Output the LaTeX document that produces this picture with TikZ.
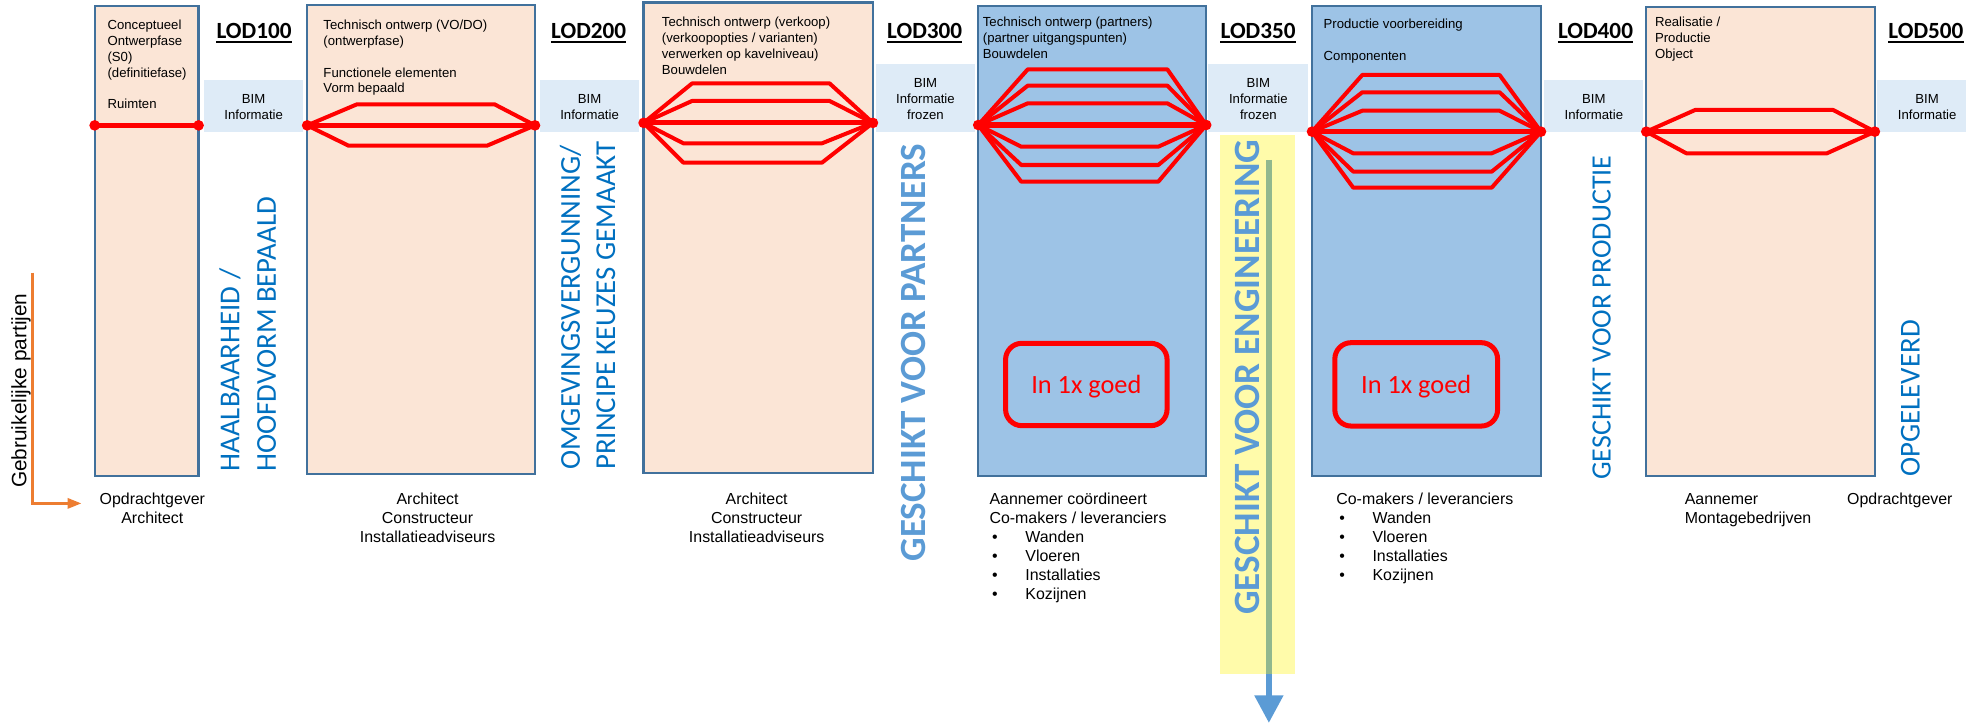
\documentclass[tikz,border=0pt]{standalone}
\usepackage{fontspec}
\setmainfont{Liberation Sans}
\newfontfamily\calib{Carlito}
\usetikzlibrary{arrows.meta,calc}
\definecolor{peach}{HTML}{FBE5D6}
\definecolor{pblue}{HTML}{9DC3E6}
\definecolor{edge}{HTML}{41719C}
\definecolor{bimfill}{HTML}{DEEBF7}
\definecolor{darkblue}{HTML}{0070C0}
\definecolor{midblue}{HTML}{5B9BD5}
\definecolor{orangeline}{HTML}{ED7D31}
\definecolor{redline}{HTML}{FF0000}
\begin{document}
\begin{tikzpicture}[x=1pt,y=-1pt,
  pbox/.style={draw=edge,line width=1.8pt,inner sep=0pt,outer sep=0pt},
  bimbox/.style={fill=bimfill,inner sep=0pt,outer sep=0pt},
  dot/.style={circle,fill=redline,inner sep=0pt,minimum size=8.5pt},
  hexl/.style={draw=redline,line width=3.2pt,line join=round,line cap=round},
  midl/.style={draw=redline,line width=4pt,line cap=round},
  toptext/.style={font=\fontsize{10.5}{12.65}\selectfont,align=left,inner sep=0pt,anchor=base west},
  bimtext/.style={font=\fontsize{10.5}{12.6}\selectfont,align=center,inner sep=0pt,anchor=base},
  lod/.style={font=\calib\bfseries\fontsize{18.5}{20}\selectfont,inner sep=0pt,anchor=base},
  ulin/.style={draw=black,line width=1.5pt},
  vtxt/.style={rotate=90,anchor=base west,inner sep=0pt,font=\calib\fontsize{23}{25}\selectfont,text=darkblue},
  vbold/.style={rotate=90,anchor=base west,inner sep=0pt,font=\calib\bfseries\fontsize{29.5}{31}\selectfont,text=midblue},
  gebr/.style={rotate=90,anchor=base west,inner sep=0pt,font=\fontsize{16.6}{18}\selectfont},
  botc/.style={font=\fontsize{12.7}{15.1}\selectfont,inner sep=0pt,anchor=base,align=center},
  botl/.style={font=\fontsize{12.7}{15.1}\selectfont,inner sep=0pt,anchor=base west,align=left},
  goedbox/.style={draw=redline,line width=4pt,rounded corners=13pt,inner sep=0pt},
  goedtxt/.style={font=\calib\fontsize{21}{23}\selectfont,text=redline,inner sep=0pt,anchor=base},
  orangearrow/.style={draw=orangeline,line width=2.2pt,-{Triangle[length=11pt,width=8pt]}},
  barrow/.style={draw=midblue,line width=4.8pt,-{Triangle[length=22pt,width=22pt]}}
]
\useasboundingbox (0,0) rectangle (1568,577);

% BIM boxes
\node[bimbox,minimum width=78.9pt,minimum height=41.2pt] (bim1) at (202.25,84.4) {};
\node[bimbox,minimum width=78.9pt,minimum height=41.2pt] (bim2) at (470.15,84.4) {};
\node[bimbox,minimum width=79.5pt,minimum height=54pt] (bim3) at (738.05,78) {};
\node[bimbox,minimum width=79.5pt,minimum height=54pt] (bim4) at (1003.25,78) {};
\node[bimbox,minimum width=78.8pt,minimum height=41.2pt] (bim5) at (1271.1,84.4) {};
\node[bimbox,minimum width=71pt,minimum height=41.2pt] (bim6) at (1532.5,84.4) {};

% process boxes
\node[pbox,fill=peach,minimum width=82.9pt,minimum height=374.6pt] (b1) at (116.95,192.1) {};
\node[pbox,fill=peach,minimum width=181.7pt,minimum height=374.6pt] (b2) at (335.85,191) {};
\node[pbox,fill=peach,minimum width=182.9pt,minimum height=375.4pt] (b3) at (604.75,189.8) {};
\node[pbox,fill=pblue,minimum width=181.8pt,minimum height=374.9pt] (b4) at (871.1,192.25) {};
\node[pbox,fill=pblue,minimum width=182.6pt,minimum height=374.9pt] (b5) at (1137.7,192.25) {};
\node[pbox,fill=peach,minimum width=182.3pt,minimum height=374.4pt] (b6) at (1404.15,192.5) {};

% dots
\node[dot] (l1) at (75.5,100) {};   \node[dot] (r1) at (158.4,100) {};
\node[dot] (l2) at (245,100) {};    \node[dot] (r2) at (426.7,100) {};
\node[dot] (l3) at (513.3,98) {};   \node[dot] (r3) at (696.2,98) {};
\node[dot] (l4) at (780.2,99.7) {}; \node[dot] (r4) at (962,99.7) {};
\node[dot] (l5) at (1046.4,105) {}; \node[dot] (r5) at (1229,105) {};
\node[dot] (l6) at (1313,105) {};   \node[dot] (r6) at (1495.3,105) {};

% red connectors
\draw[midl] (l1.center) -- (r1.center);
\draw[hexl] (l2.center) -- (284.7,83.2) -- (394.4,83.2) -- (r2.center);
\draw[hexl] (l2.center) -- (278,116.2) -- (388.4,116.2) -- (r2.center);
\draw[midl] (l2.center) -- (r2.center);
\foreach \yy in {66.5,80.5} \draw[hexl] (l3.center) -- (552,\yy) -- (661.6,\yy) -- (r3.center);
\foreach \yy in {114.3,129.7} \draw[hexl] (l3.center) -- (545,\yy) -- (655.6,\yy) -- (r3.center);
\draw[midl] (l3.center) -- (r3.center);
\foreach \yy in {55.3,68.3,82.4} \draw[hexl] (l4.center) -- (819.7,\yy) -- (931,\yy) -- (r4.center);
\foreach \yy in {117,131.6,144.9} \draw[hexl] (l4.center) -- (814.5,\yy) -- (923.8,\yy) -- (r4.center);
\draw[midl] (l4.center) -- (r4.center);
\foreach \yy in {59.8,73.6,88.3} \draw[hexl] (l5.center) -- (1086.5,\yy) -- (1196,\yy) -- (r5.center);
\foreach \yy in {122.3,136.9,149.7} \draw[hexl] (l5.center) -- (1079.3,\yy) -- (1189.7,\yy) -- (r5.center);
\draw[midl] (l5.center) -- (r5.center);
\draw[hexl] (l6.center) -- (1352,87.7) -- (1462,87.7) -- (r6.center);
\draw[hexl] (l6.center) -- (1345,122.3) -- (1457,122.3) -- (r6.center);
\draw[midl] (l6.center) -- (r6.center);

% texts in boxes (anchored at the baseline of the last line)
\node[toptext] (t1) at (85.6,86.75) {Conceptueel\\Ontwerpfase\\(S0)\\(definitiefase)\\[12.65pt]Ruimten};
\node[toptext] (t2) at (257.8,74.1) {Technisch ontwerp (VO/DO)\\(ontwerpfase)\\[12.65pt]Functionele elementen\\Vorm bepaald};
\node[toptext] (t3) at (527.7,59.45) {Technisch ontwerp (verkoop)\\(verkoopopties / varianten)\\verwerken op kavelniveau)\\Bouwdelen};
\node[toptext] (t4) at (783.7,46.8) {Technisch ontwerp (partners)\\(partner uitgangspunten)\\Bouwdelen};
\node[toptext] (t5) at (1055.5,47.9) {Productie voorbereiding\\[12.65pt]Componenten};
\node[toptext] (t6) at (1319.8,46.8) {Realisatie /\\Productie\\Object};

% BIM texts
\node[bimtext] (bt1) at (202.3,95.2) {BIM\\Informatie};
\node[bimtext] (bt2) at (470.2,95.2) {BIM\\Informatie};
\node[bimtext] (bt3) at (738.1,95.2) {BIM\\Informatie\\frozen};
\node[bimtext] (bt4) at (1003.6,95.2) {BIM\\Informatie\\frozen};
\node[bimtext] (bt5) at (1271.2,95.2) {BIM\\Informatie};
\node[bimtext] (bt6) at (1537,95.2) {BIM\\Informatie};

% LOD labels
\foreach \nm/\xx/\tx in {lodA/202.6/LOD100,lodB/469.5/LOD200,lodC/737.5/LOD300,lodD/1003.4/LOD350,lodE/1272.5/LOD400,lodF/1536/LOD500}{
  \node[lod] (\nm) at (\xx,30.7) {\tx};
  \draw[ulin] ($(\nm.base west)+(0,2.6)$) -- ($(\nm.base east)+(0,2.6)$);
}

% vertical texts
\node[vtxt] (haal) at (190.9,376.2) {HAALBAARHEID /};
\node[vtxt] (hoofd) at (220.1,376.2) {HOOFDVORM BEPAALD};
\node[vtxt] (omg) at (462.4,374.9) {OMGEVINGSVERGUNNING/};
\node[vtxt] (princ) at (490.5,374.9) {PRINCIPE KEUZES GEMAAKT};
\node[vbold] (partn) at (737.8,448) {GESCHIKT VOOR PARTNERS};
\node[vtxt,font=\calib\fontsize{22.3}{24}\selectfont] (prod) at (1284.6,382.8) {GESCHIKT VOOR PRODUCTIE};
\node[vtxt] (opg) at (1531,380.2) {OPGELEVERD};

% Gebruikelijke partijen
\node[gebr] (gebr) at (21,389.3) {Gebruikelijke partijen};
\coordinate (oa) at (26,217.5);
\coordinate (ob) at (26,401.5);
\coordinate (oc) at (65,401.5);
\draw[orangearrow] (oa) -- (ob) -- (oc);

% bottom texts (anchored at the baseline of the last line)
\node[botc] (p1) at (121.5,417.7) {Opdrachtgever\\Architect};
\node[botc] (p2) at (341,432.8) {Architect\\Constructeur\\Installatieadviseurs};
\node[botc] (p3) at (603.5,432.8) {Architect\\Constructeur\\Installatieadviseurs};
\node[botl] (p4) at (789,478.1) {Aannemer coördineert\\Co-makers / leveranciers\\
  \hspace*{2pt}\makebox[26.6pt][l]{\textbullet}Wanden\\
  \hspace*{2pt}\makebox[26.6pt][l]{\textbullet}Vloeren\\
  \hspace*{2pt}\makebox[26.6pt][l]{\textbullet}Installaties\\
  \hspace*{2pt}\makebox[26.6pt][l]{\textbullet}Kozijnen};
\node[botl] (p5) at (1065.6,463) {Co-makers / leveranciers\\
  \hspace*{2.4pt}\makebox[26.5pt][l]{\textbullet}Wanden\\
  \hspace*{2.4pt}\makebox[26.5pt][l]{\textbullet}Vloeren\\
  \hspace*{2.4pt}\makebox[26.5pt][l]{\textbullet}Installaties\\
  \hspace*{2.4pt}\makebox[26.5pt][l]{\textbullet}Kozijnen};
\node[botl] (p6) at (1343.5,417.7) {Aannemer\\Montagebedrijven};
\node[botl] (p7) at (1473,402.6) {Opdrachtgever};

% engineering strip
\coordinate (ea) at (1012,127.5);
\coordinate (eb) at (1012,576.6);
\draw[barrow] (ea) -- (eb);
\fill[yellow,fill opacity=0.333] (973,107.8) rectangle (1033,537.5);
\node[vbold,font=\calib\bfseries\fontsize{29.6}{31}\selectfont] (engin) at (1004.4,490.6) {GESCHIKT VOOR ENGINEERING};

% In 1x goed
\node[goedbox,minimum width=128.8pt,minimum height=65.7pt] (g1) at (866.4,306.65) {};
\node[goedtxt] (g1t) at (866.4,313.8) {In 1x goed};
\node[goedbox,minimum width=129.8pt,minimum height=66.5pt] (g2) at (1129.5,306.55) {};
\node[goedtxt] (g2t) at (1129.5,313.8) {In 1x goed};
\end{tikzpicture}
\end{document}
